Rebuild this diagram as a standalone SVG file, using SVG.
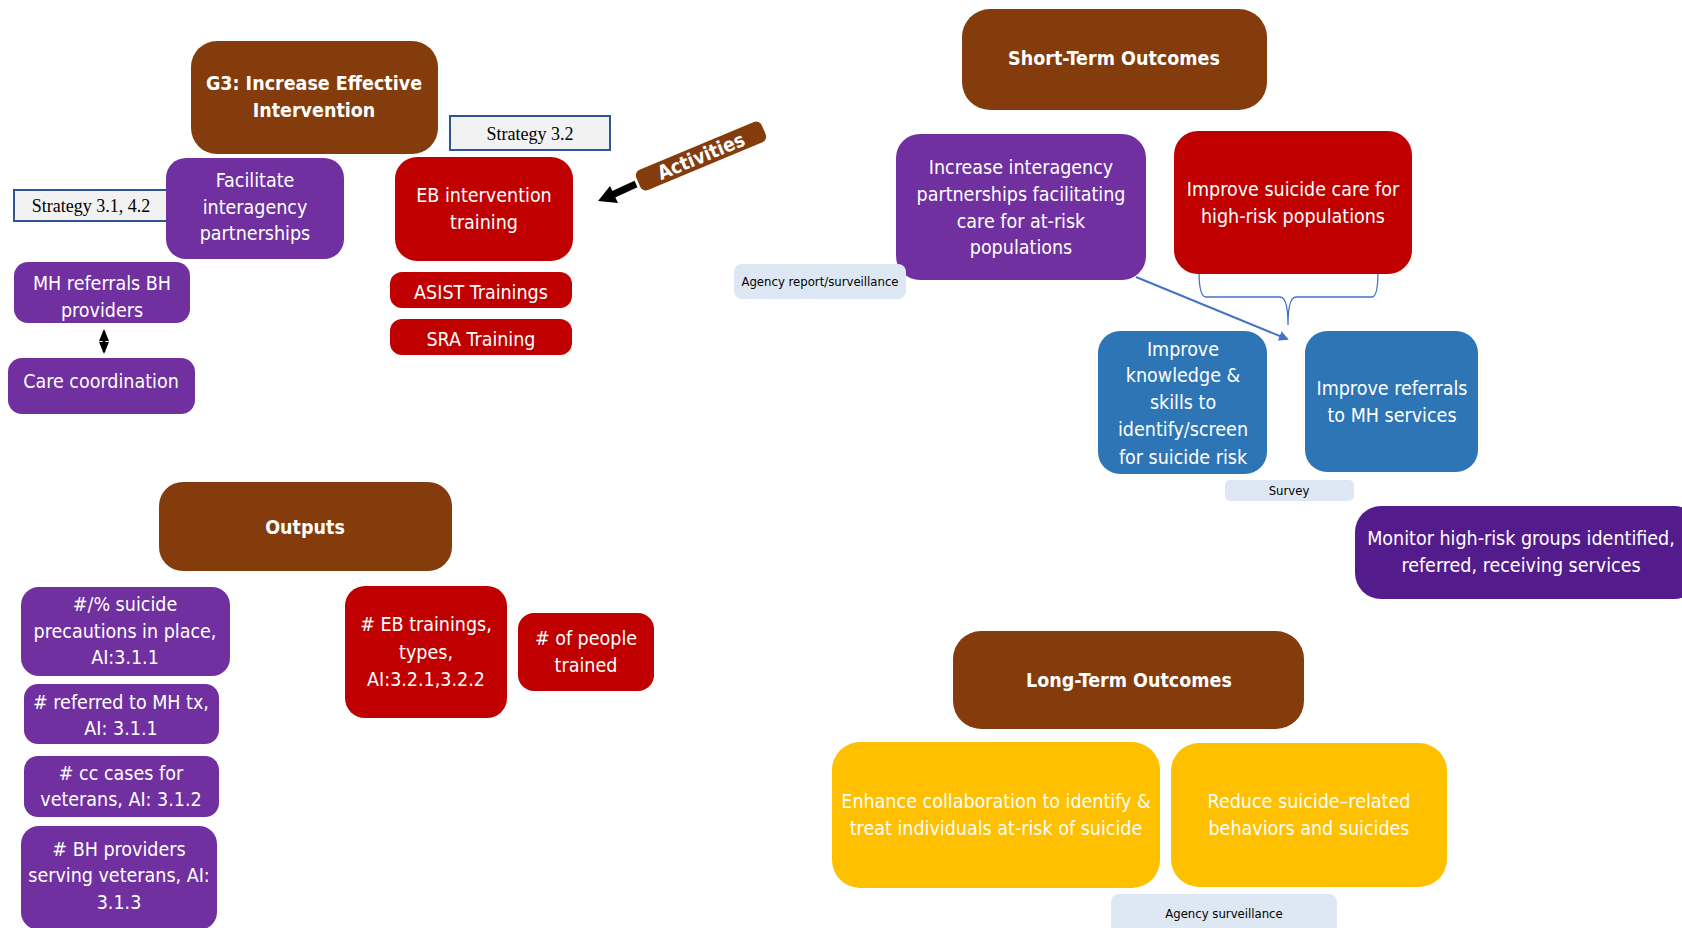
<svg xmlns="http://www.w3.org/2000/svg" width="1682" height="928" viewBox="0 0 1682 928">
<defs>
<style>
.t{font-family:"DejaVu Sans Condensed","Liberation Sans",sans-serif;fill:#fff;text-anchor:middle;font-size:19.5px}
.b{font-weight:bold}
.s{font-family:"Liberation Serif",serif;font-size:18px;fill:#000;text-anchor:middle}
.l{font-family:"DejaVu Sans Condensed","Liberation Sans",sans-serif;font-size:13px;fill:#000;text-anchor:middle}
.brown{fill:#843c0c}
.purple{fill:#7030a0}
.red{fill:#c00000}
.blue{fill:#2e75b6}
.yellow{fill:#ffc000}
.dpurple{fill:#541b8c}
.lab{fill:#dee8f5}
.strat{fill:#f2f2f2;stroke:#2f5597;stroke-width:2}
</style>
<marker id="ab" markerWidth="10" markerHeight="10" refX="8" refY="5" orient="auto" markerUnits="userSpaceOnUse"><path d="M0,0 L10,5 L0,10 Z" fill="#4472c4"/></marker>
<marker id="ak" markerWidth="12" markerHeight="10" refX="10" refY="5" orient="auto-start-reverse" markerUnits="userSpaceOnUse"><path d="M0,0 L12,5 L0,10 Z" fill="#000"/></marker>
</defs>
<rect width="1682" height="928" fill="#fff"/>

<g id="connectors">
<line x1="1136" y1="277" x2="1287" y2="339" stroke="#4472c4" stroke-width="2" marker-end="url(#ab)"/>
<path d="M1199,271 Q1199,297 1206,297 L1280,297 Q1288,297 1288,325 Q1288,297 1296,297 L1372,297 Q1378,297 1378,271" fill="none" stroke="#4472c4" stroke-width="1.3"/>
<line x1="104" y1="331" x2="104" y2="352" stroke="#000" stroke-width="2.5" marker-start="url(#ak)" marker-end="url(#ak)"/>
</g>

<g id="g3"><rect class="brown" x="191" y="41" width="247" height="113" rx="26"/>
<text class="t b" x="314" y="90" font-size="18.5">G3: Increase Effective</text><text class="t b" x="314" y="117" font-size="18.5">Intervention</text></g>

<g id="strategy32"><rect class="strat" x="450" y="116" width="160" height="34"/><text class="s" x="530" y="140">Strategy 3.2</text></g>
<g id="strategy31"><rect class="strat" x="14" y="190" width="156" height="31"/><text class="s" x="91" y="212">Strategy 3.1, 4.2</text></g>

<g id="facilitate"><rect class="purple" x="166" y="158" width="178" height="101" rx="20"/>
<text class="t" x="255" y="187">Facilitate</text><text class="t" x="255" y="214">interagency</text><text class="t" x="255" y="240">partnerships</text></g>

<g id="eb"><rect class="red" x="395" y="157" width="178" height="104" rx="22"/>
<text class="t" x="484" y="202">EB intervention</text><text class="t" x="484" y="229">training</text></g>
<g id="asist"><rect class="red" x="390" y="272" width="182" height="36" rx="12"/><text class="t" x="481" y="299">ASIST Trainings</text></g>
<g id="sra"><rect class="red" x="390" y="319" width="182" height="36" rx="12"/><text class="t" x="481" y="346">SRA Training</text></g>

<g id="activities">
<line x1="636" y1="184" x2="612" y2="195" stroke="#000" stroke-width="7"/>
<path d="M598,201 L610,186 L618,203 Z" fill="#000"/>
<g transform="translate(701,156) rotate(-22.7)">
<rect class="brown" x="-68" y="-11" width="136" height="22" rx="6"/>
<text class="t b" x="0" y="7" font-size="19">Activities</text>
</g>
</g>

<g id="mhref"><rect class="purple" x="14" y="262" width="176" height="61" rx="14"/>
<text class="t" x="102" y="290">MH referrals BH</text><text class="t" x="102" y="317">providers</text></g>
<g id="carecoord"><rect class="purple" x="8" y="358" width="187" height="56" rx="14"/>
<text class="t" x="101" y="388">Care coordination</text></g>

<g id="outputs"><rect class="brown" x="159" y="482" width="293" height="89" rx="24"/>
<text class="t b" x="305" y="534" font-size="23">Outputs</text></g>

<g id="o1"><rect class="purple" x="21" y="587" width="209" height="89" rx="18"/>
<text class="t" x="125" y="611">#/% suicide</text><text class="t" x="125" y="638">precautions in place,</text><text class="t" x="125" y="664">AI:3.1.1</text></g>
<g id="o2"><rect class="purple" x="24" y="684" width="195" height="60" rx="14"/>
<text class="t" x="121" y="709">#&#160;referred to MH tx,</text><text class="t" x="121" y="735">AI: 3.1.1</text></g>
<g id="o3"><rect class="purple" x="24" y="756" width="195" height="61" rx="14"/>
<text class="t" x="121" y="780">#&#160;cc cases for</text><text class="t" x="121" y="806">veterans, AI: 3.1.2</text></g>
<g id="o4"><rect class="purple" x="21" y="826" width="196" height="104" rx="18"/>
<text class="t" x="119" y="856">#&#160;BH providers</text><text class="t" x="119" y="882">serving veterans, AI:</text><text class="t" x="119" y="909">3.1.3</text></g>

<g id="o5"><rect class="red" x="345" y="586" width="162" height="132" rx="20"/>
<text class="t" x="426" y="631">#&#160;EB trainings,</text><text class="t" x="426" y="659">types,</text><text class="t" x="426" y="686">AI:3.2.1,3.2.2</text></g>
<g id="o6"><rect class="red" x="518" y="613" width="136" height="78" rx="16"/>
<text class="t" x="586" y="645">#&#160;of people</text><text class="t" x="586" y="672">trained</text></g>

<g id="short"><rect class="brown" x="962" y="9" width="305" height="101" rx="28"/>
<text class="t b" x="1114" y="65" font-size="21">Short-Term Outcomes</text></g>

<g id="st1"><rect class="purple" x="896" y="134" width="250" height="146" rx="24"/>
<text class="t" x="1021" y="174">Increase interagency</text><text class="t" x="1021" y="201">partnerships facilitating</text><text class="t" x="1021" y="228">care for at-risk</text><text class="t" x="1021" y="254">populations</text></g>
<g id="st2"><rect class="red" x="1174" y="131" width="238" height="143" rx="24"/>
<text class="t" x="1293" y="196">Improve suicide care for</text><text class="t" x="1293" y="223">high-risk populations</text></g>
<g id="agencyreport"><rect class="lab" x="734" y="264" width="172" height="35" rx="8"/>
<text class="l" x="820" y="286">Agency report/surveillance</text></g>

<g id="st3"><rect class="blue" x="1098" y="331" width="169" height="143" rx="22"/>
<text class="t" x="1183" y="356">Improve</text><text class="t" x="1183" y="382">knowledge &amp;</text><text class="t" x="1183" y="409">skills to</text><text class="t" x="1183" y="436">identify/screen</text><text class="t" x="1183" y="464">for suicide risk</text></g>
<g id="st4"><rect class="blue" x="1305" y="331" width="173" height="141" rx="22"/>
<text class="t" x="1392" y="395">Improve referrals</text><text class="t" x="1392" y="422">to MH services</text></g>
<g id="survey"><rect class="lab" x="1225" y="480" width="129" height="21" rx="5"/>
<text class="l" x="1289" y="495">Survey</text></g>

<g id="monitor"><rect class="dpurple" x="1355" y="506" width="345" height="93" rx="26"/>
<text class="t" x="1521" y="545">Monitor high-risk groups identified,</text><text class="t" x="1521" y="572">referred, receiving services</text></g>

<g id="long"><rect class="brown" x="953" y="631" width="351" height="98" rx="28"/>
<text class="t b" x="1129" y="687" font-size="22">Long-Term Outcomes</text></g>
<g id="lt1"><rect class="yellow" x="832" y="742" width="328" height="146" rx="28"/>
<text class="t" x="996" y="808">Enhance collaboration to identify &amp;</text><text class="t" x="996" y="835">treat individuals at-risk of suicide</text></g>
<g id="lt2"><rect class="yellow" x="1171" y="743" width="276" height="144" rx="28"/>
<text class="t" x="1309" y="808">Reduce suicide–related</text><text class="t" x="1309" y="835">behaviors and suicides</text></g>
<g id="agencysurv"><rect class="lab" x="1111" y="894" width="226" height="40" rx="8"/>
<text class="l" x="1224" y="918">Agency surveillance</text></g>
</svg>
